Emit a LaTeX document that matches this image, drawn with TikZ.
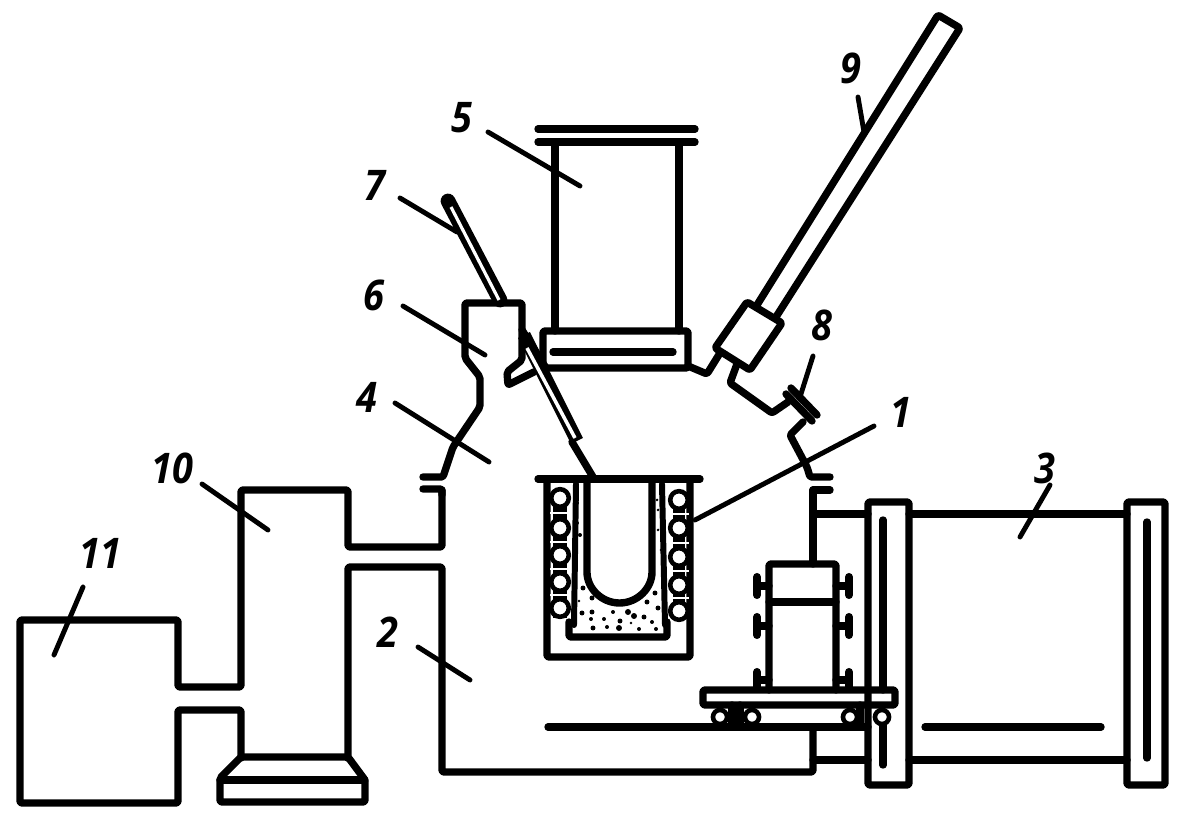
\documentclass[tikz,border=0pt]{standalone}
\usepackage{fontspec}
\setmainfont{Open Sans}
\begin{document}
\begin{tikzpicture}
        [x=0.02cm,y=-0.02cm,
        walldecorate/.style={line width=4.2pt,line join=round,line cap=round,rounded corners=1.2pt},%
        leaderdecorate/.style={line width=2.8pt,line cap=round},%
        labeldecorate/.style={inner sep=0pt,font=\fontsize{24}{24}\selectfont\itshape\bfseries,xscale=0.9},%
        ringdecorate/.style={draw,fill=white,circle,line width=2.6pt,inner sep=0pt,minimum size=10pt},%
        sanddecorate/.style={fill,circle,inner sep=0pt}]
        \useasboundingbox (0,0) rectangle (1181,834);

        %% pump 11 and trap 10
        \draw[walldecorate] (442,490) -- (442,547) -- (348,547) -- (348,490) -- (241,490)
          -- (241,687) -- (178,687) -- (178,620) -- (20,620) -- (20,803) -- (178,803)
          -- (178,710) -- (241,710) -- (241,757);
        \draw[walldecorate] (241,757) -- (348,757) -- (365,780) -- (365,802) -- (220,802)
          -- (220,778) -- cycle;
        \draw[walldecorate] (220,780) -- (365,780);
        \draw[walldecorate] (348,757) -- (348,567) -- (442,567) -- (442,772) -- (813,772) -- (813,727);

        %% upper hood
        \draw[walldecorate] (423,489) -- (442,489) -- (442,495);
        \draw[walldecorate] (423,477) -- (443,477) -- (453,447) -- (480,407) -- (480,377)
          -- (465,358) -- (465,303) -- (522,303) -- (522,360) -- (507,372) -- (508,385) -- (534,372);
        \draw[walldecorate] (522,330) -- (546,368);
        \draw[walldecorate] (543,331) rectangle (688,368);
        \draw[walldecorate] (553,352) -- (673,352);
        \draw[walldecorate] (555,142) -- (555,331);
        \draw[walldecorate] (679,142) -- (679,331);
        \draw[walldecorate] (538,142) -- (695,142);
        \draw[walldecorate] (538,129) -- (695,129);
        \draw[walldecorate] (688,366) -- (707,374) -- (720,353);

        %% lock 9
        \draw[walldecorate] (747,302) -- (782,323) -- (750,370) -- (715,348) -- cycle;
        \draw[walldecorate] (757,305) -- (938,15) -- (960,28) -- (776,317);
        \draw[walldecorate] (737,364) -- (730,383) -- (772,413) -- (788,402);
        \draw[walldecorate] (803,422) -- (790,435) -- (807,467) -- (810,477) -- (830,477);
        \draw[walldecorate,rounded corners=0pt] (786,394) -- (812,421);
        \draw[walldecorate,rounded corners=0pt] (791,388) -- (817,415);

        %% thermocouple 7
        \draw[line width=8.4pt,line cap=round] (448,201) -- (500,300);
        \draw[white,line width=1.8pt] (451,207) -- (499,300);
        \draw[line width=7.6pt] (524,335) -- (577,441);
        \draw[white,line width=2pt] (527,348) -- (575,438);
        \draw[walldecorate] (572,442) -- (593,477);

        %% crucible and inductor 1
        \draw[walldecorate] (538,479) -- (700,479);
        \draw[walldecorate] (547,479) -- (547,657) -- (690,657) -- (690,479);
        \draw[walldecorate] (569,622) -- (569,637) -- (667,637) -- (667,622);
        \draw[line width=3.4pt,line cap=round] (576,484) -- (574,625);
        \draw[line width=3.4pt,line cap=round] (662,484) -- (665,625);
        \draw[walldecorate] (587,479) -- (587,570) arc[start angle=180,end angle=360,x radius=32.5,y radius=-33] -- (652,479);
        \draw[line width=8pt] (560,492) -- (560,618);
        \draw[line width=7pt] (679,492) -- (679,620);
        \foreach \slitx/\slity in {560/513, 560/542, 560/569, 560/595,
          679/514, 679/543, 679/571, 679/598}
        {
          \draw[white,line width=1.5pt] (\slitx-10,\slity) -- (\slitx+10,\slity);
        }
        \foreach \ringx/\ringy in {560/498, 560/528, 560/555, 560/582, 560/608,
          679/500, 679/528, 679/557, 679/585, 679/611}
        {
          \node (ring\ringx\ringy) at (\ringx,\ringy) [ringdecorate] {};
        }
        \foreach \sandx/\sandy/\sandsize in {582/613/5, 592/612/5, 591/619/4, 593/628/5, 607/627/4,
          604/619/4, 613/612/4, 620/621/5, 619/628/6, 628/612/6, 634/616/6, 644/617/5, 631/623/3,
          639/629/4, 652/622/4, 656/629/4, 658/608/5, 647/602/5, 655/593/5, 592/598/5, 579/601/3,
          583/588/5, 577/503/4, 577/523/4, 580/535/4, 657/500/3, 658/510/3, 658/530/3, 661/550/3}
        {
          \node (sand\sandx\sandy) at (\sandx,\sandy) [sanddecorate,minimum size=\sandsize*0.567pt] {};
        }

        %% chamber 3
        \draw[walldecorate] (813,490) -- (830,490);
        \draw[walldecorate] (813,490) -- (813,564);
        \draw[walldecorate] (813,514) -- (868,514);
        \draw[walldecorate] (548,727) -- (868,727);
        \draw[walldecorate] (813,760) -- (868,760);
        \draw[walldecorate] (868,502) rectangle (909,785);
        \draw[walldecorate] (1127,502) rectangle (1165,785);
        \draw[walldecorate] (909,514) -- (1127,514);
        \draw[walldecorate] (909,760) -- (1127,760);
        \draw[walldecorate] (925,727) -- (1101,727);
        \draw[walldecorate] (883,520) -- (883,690);
        \draw[walldecorate] (883,717) -- (883,765);
        \draw[walldecorate] (1147,522) -- (1147,758);

        %% mould on the trolley
        \draw[walldecorate] (769,690) -- (769,564) -- (836,564) -- (836,690);
        \draw[walldecorate] (769,602) -- (836,602);
        \foreach \clampx/\wallx in {757/769, 849/836}
        {
          \foreach \clampy/\clampz in {577/595, 617/635, 672/688}
          {
            \draw[line width=4.6pt,line cap=round] (\clampx,\clampy) -- (\clampx,\clampz);
            \draw[walldecorate] (\clampx,\clampy/2+\clampz/2) -- (\wallx,\clampy/2+\clampz/2);
          }
        }
        \draw[walldecorate] (703,690) rectangle (895,705);
        \foreach \barx in {732,740,860}
        {
          \draw[walldecorate] (\barx,705) -- (\barx,727);
        }
        \foreach \wheelx in {720,752,850,882}
        {
          \node (wheel\wheelx) at (\wheelx,717) [ringdecorate,minimum size=8pt] {};
        }

        %% labels and their leaders
        \foreach \labelname/\x/\y in {1/901/412, 2/388/632, 3/1045/468, 4/367/397, 5/462/118,
          6/374/295, 7/375/185, 8/822/325, 9/851/68, 10/172/468, 11/100/553}
        {
          \node (label\labelname) at (\x,\y) [labeldecorate] {\labelname};
        }
        \foreach \startx/\starty/\endx/\endy in {874/426/695/520, 418/647/470/680, 1050/485/1020/537,
          395/403/489/462, 488/132/580/186, 403/306/485/355, 400/198/457/232, 813/356/800/397,
          858/97/864/132, 202/484/268/530, 83/587/54/655}
        {
          \draw[leaderdecorate] (\startx,\starty) -- (\endx,\endy);
        }
      \end{tikzpicture}
\end{document}
